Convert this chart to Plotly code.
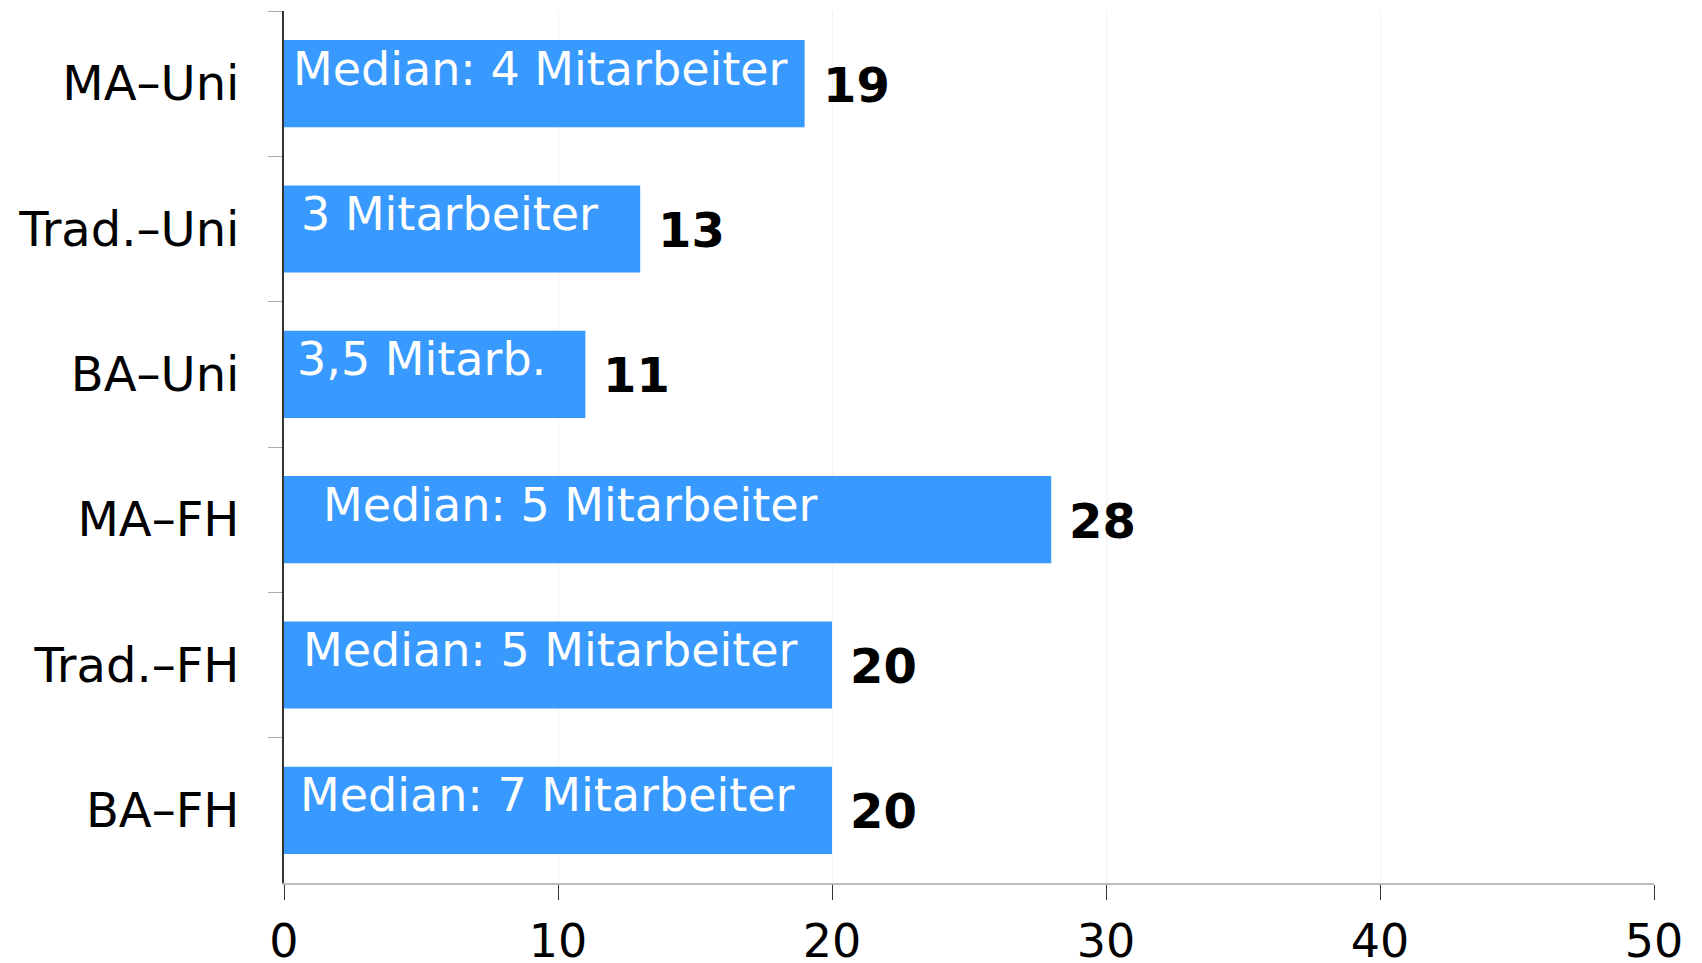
import plotly.graph_objects as go

categories = ["MA–Uni", "Trad.–Uni", "BA–Uni", "MA–FH", "Trad.–FH", "BA–FH"]
values = [19, 13, 11, 28, 20, 20]
inner_labels = ["Median: 4 Mitarbeiter", "3 Mitarbeiter", "3,5 Mitarb.",
                "Median: 5 Mitarbeiter", "Median: 5 Mitarbeiter", "Median: 7 Mitarbeiter"]
x_ticks = [0, 10, 20, 30, 40, 50]

label_shift = [7, 15, 11, 37, 17, 14]

FONT = "DejaVu Sans"
BAR = "#3899FF"

fig = go.Figure()
fig.add_trace(go.Bar(
    x=values, y=categories, orientation="h",
    marker=dict(color=BAR, line=dict(width=0)),
    hoverinfo="skip",
))

annotations = []
for cat, val, lab, sh in zip(categories, values, inner_labels, label_shift):
    annotations.append(dict(
        x=0, y=cat, xref="x", yref="y", text=lab, showarrow=False,
        xanchor="left", yanchor="middle", xshift=sh, yshift=15,
        font=dict(family=FONT, size=46, color="white"),
    ))
    annotations.append(dict(
        x=val, y=cat, xref="x", yref="y", text=str(val), showarrow=False,
        xanchor="left", yanchor="middle", xshift=16, yshift=-1,
        font=dict(family=FONT, size=48, color="black", weight="bold"),
    ))

fig.update_layout(
    width=1694, height=955,
    margin=dict(l=276, r=48, t=3, b=80, autoexpand=False),
    plot_bgcolor="white", paper_bgcolor="white",
    bargap=0.4,
    showlegend=False,
    annotations=annotations,
    font=dict(family=FONT, size=46, color="black"),
)
fig.update_xaxes(
    range=[0, 50], tickvals=x_ticks, ticktext=[str(v) for v in x_ticks],
    showgrid=True, gridcolor="#f2f2f2", gridwidth=1,
    showline=True, linecolor="#bdbdbd", linewidth=2,
    ticks="outside", ticklen=15, tickcolor="#333333", tickwidth=1,
    ticklabelstandoff=2, automargin=False,
    zeroline=False,
    tickfont=dict(family=FONT, size=46, color="black"),
)
fig.update_yaxes(
    categoryorder="array", categoryarray=categories, autorange="reversed",
    showgrid=False, showline=True, linecolor="#333333", linewidth=2,
    ticks="outside", ticklen=14, tickcolor="#aaaaaa", tickwidth=1,
    tickson="boundaries", ticklabelstandoff=33, automargin=False,
    tickfont=dict(family=FONT, size=48, color="black"),
)

fig.write_html("out.html")
